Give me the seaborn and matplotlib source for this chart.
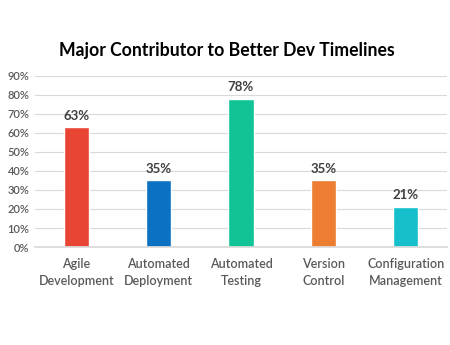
import matplotlib
matplotlib.use("Agg")
import matplotlib.pyplot as plt
import seaborn as sns
import pandas as pd

categories = ["Agile\nDevelopment", "Automated\nDeployment", "Automated\nTesting", "Version\nControl", "Configuration\nManagement"]
values = [0.63, 0.35, 0.78, 0.35, 0.21]
colors = ["#E84535", "#0B72C3", "#10C496", "#ED7D31", "#15C0CC"]
yticks = [0, 0.1, 0.2, 0.3, 0.4, 0.5, 0.6, 0.7, 0.8, 0.9]
ytick_labels = ["0%", "10%", "20%", "30%", "40%", "50%", "60%", "70%", "80%", "90%"]
title = "Major Contributor to Better Dev Timelines"

sns.set_theme(style="white")
plt.rcParams['font.family'] = ['Lato', 'DejaVu Sans']

df = pd.DataFrame({"cat": categories, "val": values})

fig = plt.figure(figsize=(4.5, 3.45), dpi=100)
ax = fig.add_axes([0.078, 0.284, 0.915, 0.496])
sns.barplot(data=df, x="cat", y="val", hue="cat", palette=colors, width=0.31,
            legend=False, ax=ax, saturation=1)
ax.set_ylim(0, 0.9)
ax.set_yticks(yticks)
ax.set_yticklabels(ytick_labels, color="#595959", fontsize=8, fontweight="semibold")
ax.yaxis.grid(True, color="#D9D9D9", linewidth=0.8)
ax.set_axisbelow(True)
for s in ["top", "right", "left"]:
    ax.spines[s].set_visible(False)
ax.spines["bottom"].set_color("#D9D9D9")
ax.tick_params(axis="both", length=0, pad=4)
ax.tick_params(axis="x", pad=8)
ax.set_xticks(range(len(categories)))
ax.set_xticklabels(categories, color="#595959", fontsize=9, fontweight="semibold", linespacing=1.5)
ax.set_xlabel("")
ax.set_ylabel("")
for i, v in enumerate(values):
    ax.text(i, v + 0.03, f"{int(round(v*100))}%", ha="center", va="bottom",
            fontsize=9.5, color="#404040", fontweight="bold")
fig.text(0.505, 0.855, title, ha="center", va="center", fontsize=12.7, fontweight="bold", color="#000000")
fig.savefig("out.png", dpi=100, facecolor="white")
